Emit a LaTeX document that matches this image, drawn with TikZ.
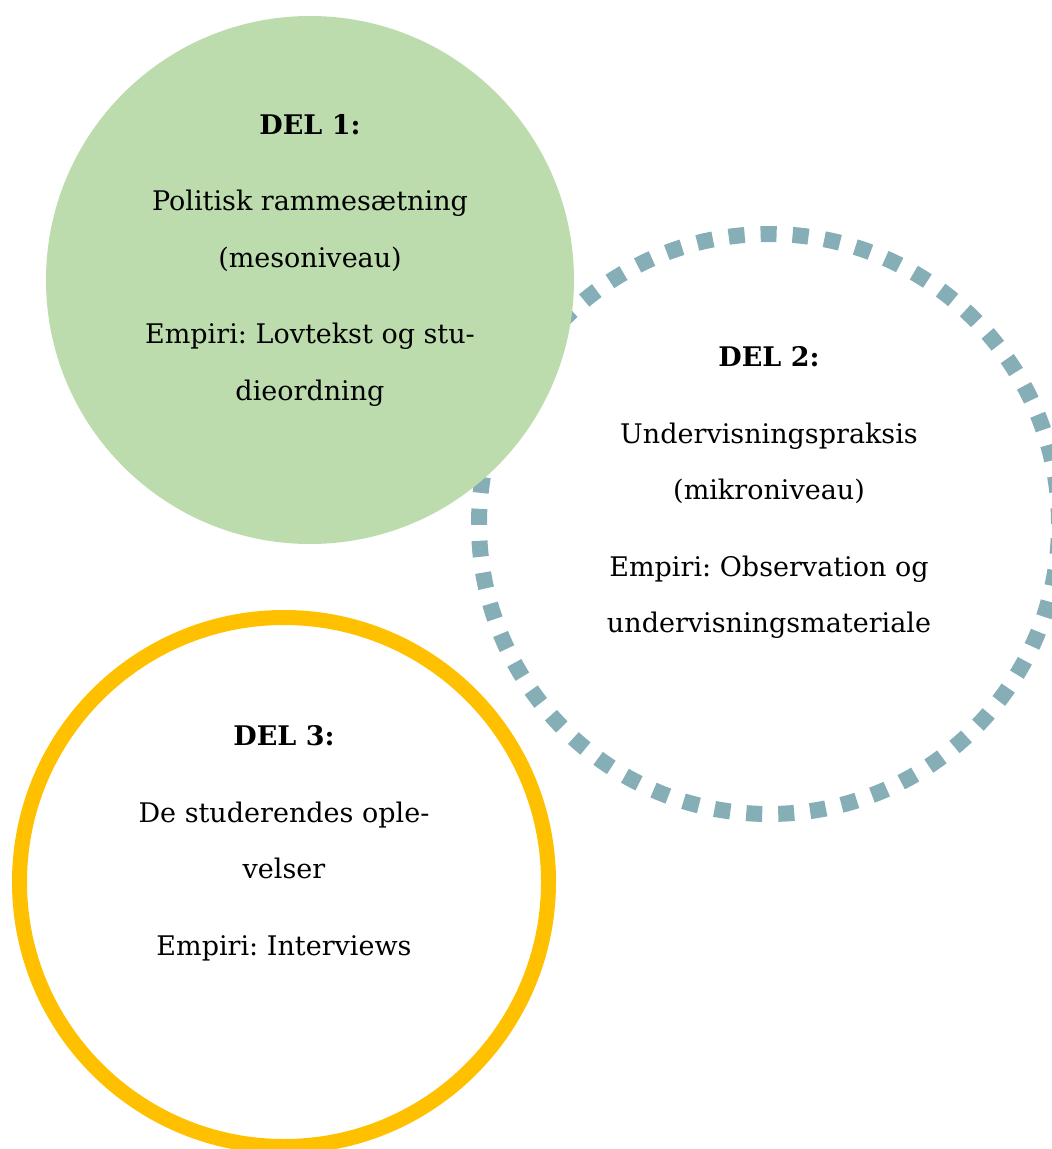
\documentclass[tikz,border=0pt]{standalone}
\usepackage{fontspec}
\setmainfont{DejaVu Serif}
\frenchspacing
\usetikzlibrary{positioning}
\definecolor{delgreen}{RGB}{189,220,173}
\definecolor{delteal}{RGB}{134,174,182}
\definecolor{delyellow}{RGB}{255,192,0}
\tikzset{
  del circle/.style={circle, inner sep=0pt},
  green disc/.style={del circle, fill=delgreen, minimum size=264pt},
  dashed ring/.style={del circle, draw=delteal, line width=8pt, dash pattern=on 8pt off 8pt, minimum size=290pt},
  yellow ring/.style={del circle, draw=delyellow, line width=7.5pt, minimum size=264.5pt},
  del text/.style={align=center, inner sep=0pt, font=\fontsize{13.5}{28.3}\selectfont},
}

\begin{document}
\begin{tikzpicture}[x=0.5pt,y=-0.5pt]
\useasboundingbox (0,0) rectangle (1051,1149);
% the circles (the dashed one first, so the green disc lies on top of it)
\node [dashed ring] (delB) at (769,524) {};
\node [green disc] (delA) at (310,280) {};
\node [yellow ring] (delC) at (284,882) {};
% the texts
\node [del text,below=49pt of delA.north] (txtA){\textbf{DEL 1:}\\[10pt]
  Politisk rammesætning\\(mesoniveau)\\[10pt]
  Empiri: Lovtekst og stu-\\dieordning};
\node [del text,below=60pt of delB.north] (txtB){\textbf{DEL 2:}\\[10pt]
  Undervisningspraksis\\(mikroniveau)\\[10pt]
  Empiri: Observation og\\undervisningsmateriale};
\node [del text,below=57.5pt of delC.north] (txtC){\textbf{DEL 3:}\\[10pt]
  De studerendes ople-\\velser\\[10pt]
  Empiri: Interviews};
\end{tikzpicture}
\end{document}
